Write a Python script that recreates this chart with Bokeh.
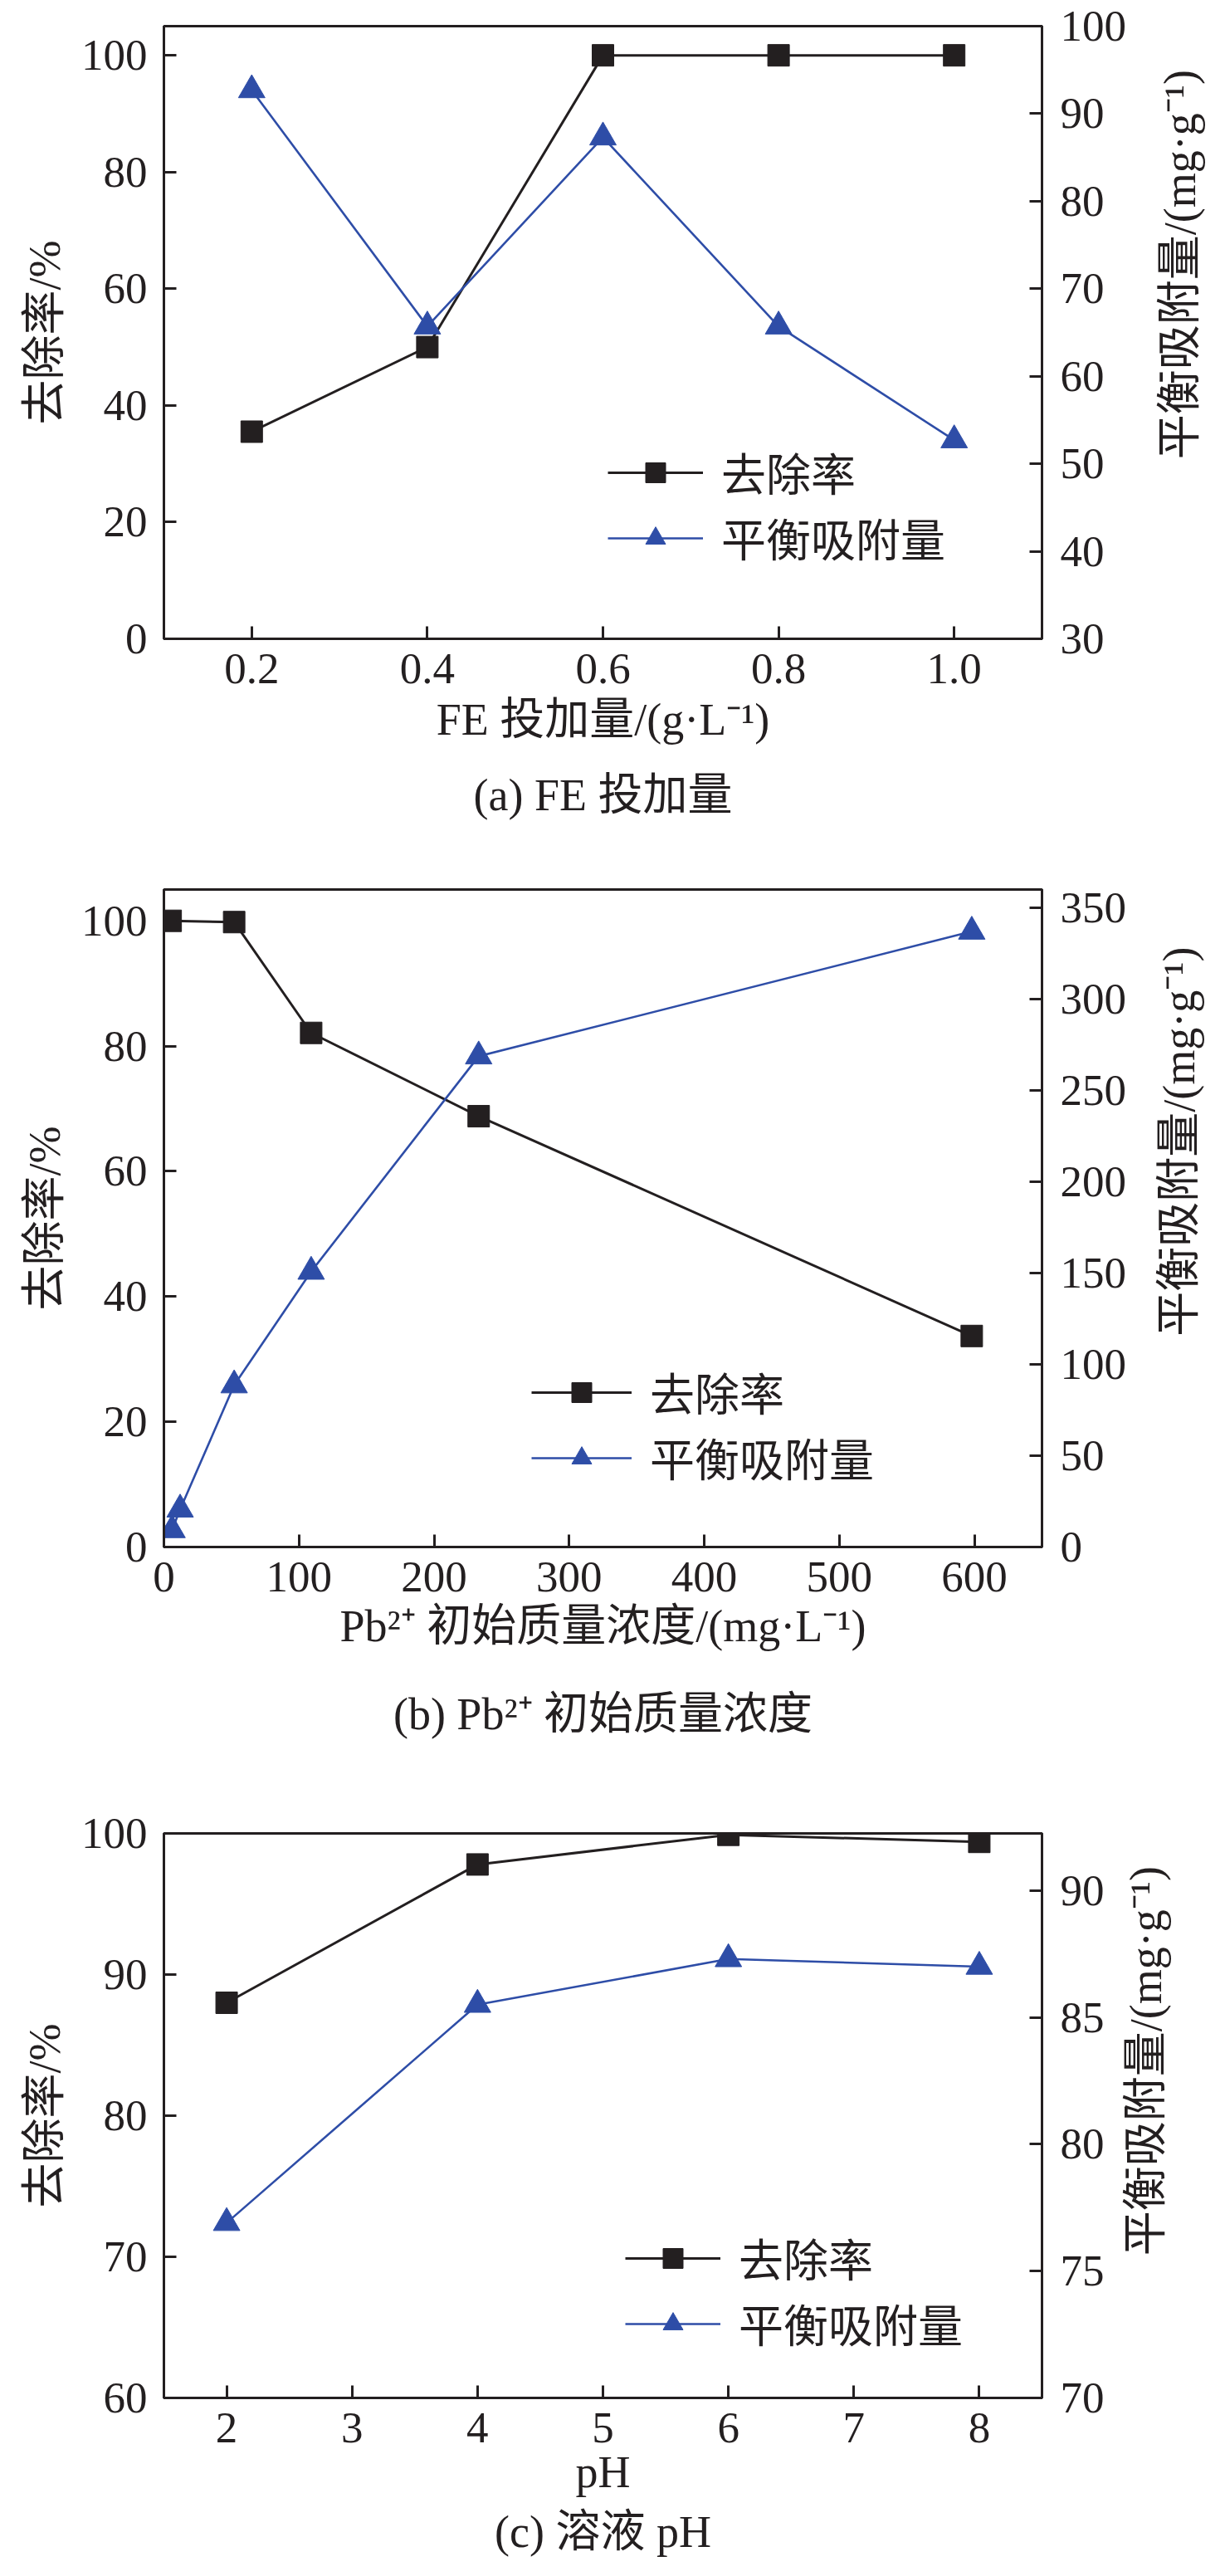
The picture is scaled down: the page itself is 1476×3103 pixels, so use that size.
import math
from bokeh.plotting import figure
from bokeh.models import (Range1d, LinearAxis, Legend, LegendItem, Title, FixedTicker,
                          NumeralTickFormatter)
from bokeh.core.properties import value
from bokeh.layouts import column, row
from bokeh.embed import file_html
from bokeh.resources import INLINE

# ---------------- data ----------------
removal_name = "去除率"
capacity_name = "平衡吸附量"
left_label = "去除率/%"
right_label = "平衡吸附量/(mg·g⁻¹)"

# (a) FE dosage
fe_dose = [0.2, 0.4, 0.6, 0.8, 1.0]
fe_removal = [35.5, 50.0, 100.0, 100.0, 100.0]
fe_capacity = [92.7, 65.7, 87.3, 65.7, 52.7]
fe_xticks = [0.2, 0.4, 0.6, 0.8, 1.0]
fe_yticks = [0, 20, 40, 60, 80, 100]
fe_y2ticks = [30, 40, 50, 60, 70, 80, 90, 100]
fe_xlabel = "FE 投加量/(g·L⁻¹)"
fe_caption = "(a) FE 投加量"

# (b) initial Pb2+ concentration
pb_removal_conc = [5, 52, 109, 233, 598]
pb_removal = [100.0, 99.8, 82.1, 68.8, 33.7]
pb_capacity_conc = [6, 12, 52, 109, 233, 598]
pb_capacity = [9.3, 20.6, 88.6, 150.8, 268.7, 337.0]
pb_xticks = [0, 100, 200, 300, 400, 500, 600]
pb_yticks = [0, 20, 40, 60, 80, 100]
pb_y2ticks = [0, 50, 100, 150, 200, 250, 300, 350]
pb_xlabel = "Pb²⁺ 初始质量浓度/(mg·L⁻¹)"
pb_caption = "(b) Pb²⁺ 初始质量浓度"

# (c) solution pH
ph_values = [2, 4, 6, 8]
ph_removal = [88.0, 97.8, 99.9, 99.4]
ph_capacity = [76.9, 85.5, 87.3, 87.0]
ph_xticks = [2, 3, 4, 5, 6, 7, 8]
ph_yticks = [60, 70, 80, 90, 100]
ph_y2ticks = [70, 75, 80, 85, 90]
ph_xlabel = "pH"
ph_caption = "(c) 溶液 pH"

# ---------------- style ----------------
BLACK = "#231F20"
BLUE = "#2E4DA7"
TICK_FONT = "Liberation Serif"
LABEL_FONT = "Liberation Serif, Noto Sans CJK SC"
PAGE_W = 1476
BORDER_L = 197
FRAME_W = 1058


def style_axis(ax, ticks, standoff=20):
    ax.ticker = FixedTicker(ticks=ticks)
    ax.axis_line_color = BLACK
    ax.axis_line_width = 3
    ax.major_tick_line_color = BLACK
    ax.major_tick_line_width = 3
    ax.major_tick_in = 15
    ax.major_tick_out = 0
    ax.minor_tick_line_color = None
    ax.major_label_text_font = TICK_FONT
    ax.major_label_text_font_size = "53px"
    ax.major_label_text_color = BLACK
    ax.major_label_standoff = standoff
    ax.axis_label_text_font = LABEL_FONT
    ax.axis_label_text_font_size = "54px"
    ax.axis_label_text_font_style = "normal"
    ax.axis_label_text_color = BLACK


def make_panel(x_rem, y_rem, x_cap, y_cap, xr, yr, y2r, xticks, yticks, y2ticks,
               xlabel, caption, height, top, frame_h, legend_loc, glyph_w,
               right_label_x, xlabel_standoff, caption_standoff, xfmt=None):
    main_w = right_label_x - 38
    p = figure(width=main_w, height=height,
               x_range=Range1d(*xr), y_range=Range1d(*yr),
               output_backend="svg", toolbar_location=None, tools="",
               min_border_left=BORDER_L, min_border_right=main_w - BORDER_L - FRAME_W,
               min_border_top=top, min_border_bottom=height - top - frame_h)
    p.extra_y_ranges = {"right": Range1d(*y2r)}
    p.grid.visible = False
    p.outline_line_color = BLACK
    p.outline_line_width = 3
    p.background_fill_color = "white"
    p.border_fill_color = "white"

    xa = p.xaxis[0]
    style_axis(xa, xticks, 18)
    xa.axis_label = xlabel
    xa.axis_label_standoff = xlabel_standoff
    if xfmt is not None:
        xa.formatter = NumeralTickFormatter(format=xfmt)

    ya = p.yaxis[0]
    style_axis(ya, yticks, 20)
    ya.axis_label = left_label
    ya.axis_label_standoff = 11

    ra = LinearAxis(y_range_name="right")
    style_axis(ra, y2ticks, 22)
    p.add_layout(ra, "right")

    l1 = p.line(x_rem, y_rem, line_color=BLACK, line_width=3)
    s1 = p.scatter(x_rem, y_rem, marker="square", size=26,
                   fill_color=BLACK, line_color=BLACK)
    l2 = p.line(x_cap, y_cap, line_color=BLUE, line_width=2.6, y_range_name="right")
    s2 = p.scatter(x_cap, y_cap, marker="triangle", size=32,
                   fill_color=BLUE, line_color=BLUE, y_range_name="right")

    legend = Legend(items=[LegendItem(label=removal_name, renderers=[l1, s1]),
                           LegendItem(label=capacity_name, renderers=[l2, s2])],
                    location=legend_loc, glyph_width=glyph_w, glyph_height=60,
                    label_height=60, spacing=0, padding=0, margin=0,
                    label_standoff=22, border_line_color=None,
                    background_fill_alpha=0,
                    label_text_font=LABEL_FONT, label_text_font_size="54px",
                    label_text_color=BLACK)
    p.add_layout(legend)

    p.add_layout(Title(text=caption, align="center", text_font=LABEL_FONT,
                       text_font_size="54px", text_font_style="normal",
                       text_color=BLACK, standoff=caption_standoff), "below")

    # right-hand axis title (reads bottom-to-top), in a narrow strip beside the plot
    side_w = PAGE_W - main_w
    s = figure(width=side_w, height=height, x_range=Range1d(0, side_w),
               y_range=Range1d(0, height), output_backend="svg",
               toolbar_location=None, tools="", x_axis_location=None,
               y_axis_location=None, min_border=0, outline_line_color=None)
    s.grid.visible = False
    s.background_fill_color = "white"
    s.border_fill_color = "white"
    s.text(x=[right_label_x - main_w], y=[height - top - frame_h / 2],
           text=[right_label], angle=math.pi / 2, text_align="center",
           text_baseline="middle", text_font=value(LABEL_FONT),
           text_font_size="54px", text_color=BLACK)
    return row(p, s, spacing=0)


pa = make_panel(fe_dose, fe_removal, fe_dose, fe_capacity,
                (0.1, 1.1), (0, 105), (30, 100),
                fe_xticks, fe_yticks, fe_y2ticks, fe_xlabel, fe_caption,
                height=1028, top=31, frame_h=738, legend_loc=(535, 82),
                glyph_w=115, right_label_x=1421, xlabel_standoff=11,
                caption_standoff=52, xfmt="0.0")

pb = make_panel(pb_removal_conc, pb_removal, pb_capacity_conc, pb_capacity,
                (0, 650), (0, 105), (0, 360),
                pb_xticks, pb_yticks, pb_y2ticks, pb_xlabel, pb_caption,
                height=1145, top=43, frame_h=792, legend_loc=(443, 68),
                glyph_w=121, right_label_x=1420, xlabel_standoff=9,
                caption_standoff=82)

pc = make_panel(ph_values, ph_removal, ph_values, ph_capacity,
                (1.5, 8.5), (60, 100), (70, 92.25),
                ph_xticks, ph_yticks, ph_y2ticks, ph_xlabel, ph_caption,
                height=930, top=35, frame_h=680, legend_loc=(556, 50),
                glyph_w=115, right_label_x=1380, xlabel_standoff=3,
                caption_standoff=14)

layout = column(pa, pb, pc, spacing=0)
open("out.html", "w").write(file_html(layout, INLINE))
